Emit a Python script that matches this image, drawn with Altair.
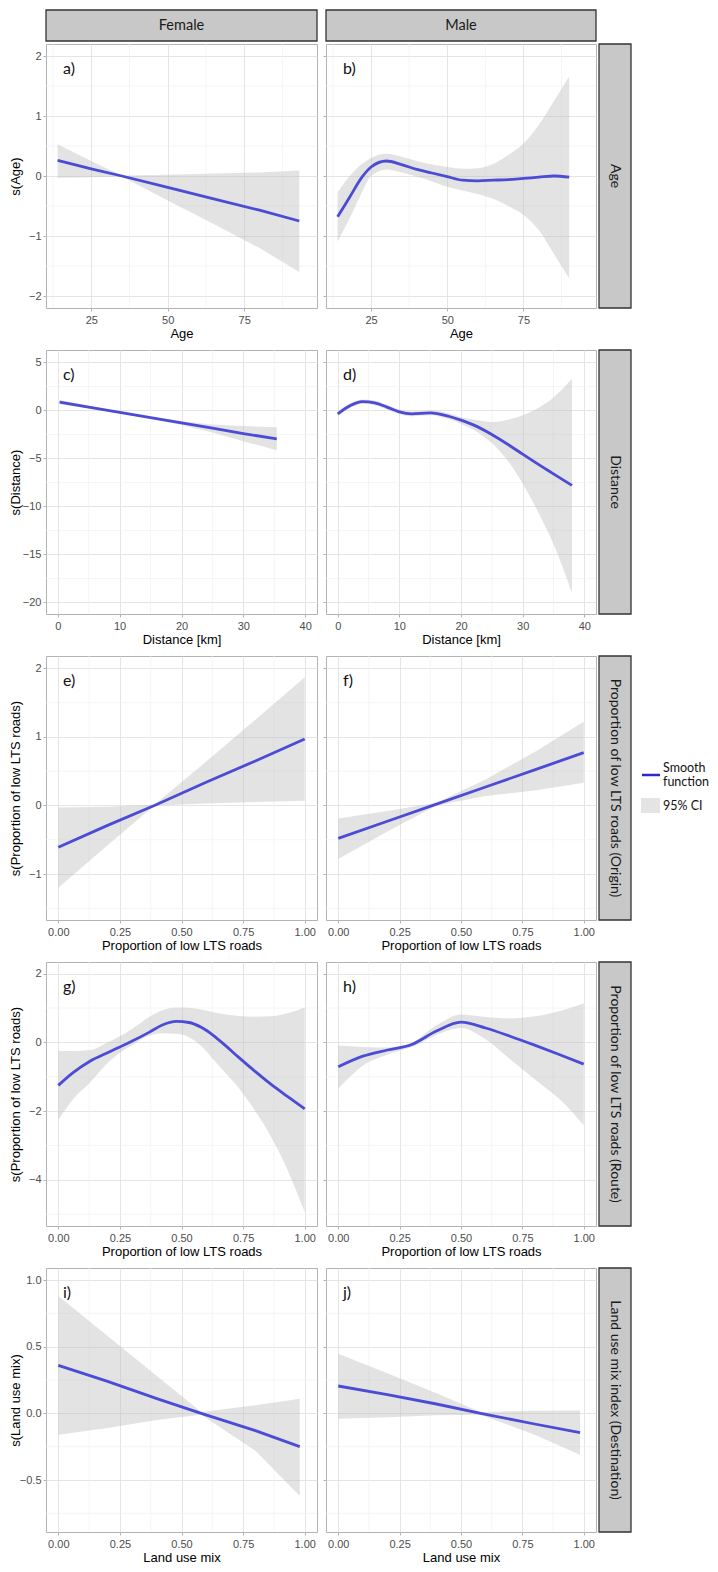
import altair as alt
import pandas as pd

# ---------------- data ----------------
# Row 1: Age
age_f_x = [14, 25, 35, 50, 65, 80, 93]
age_f_fit = [0.26, 0.12, 0.0, -0.19, -0.38, -0.57, -0.75]
age_f_lo = [-0.03, -0.02, -0.01, -0.41, -0.80, -1.20, -1.60]
age_f_hi = [0.53, 0.25, 0.01, 0.02, 0.04, 0.06, 0.09]

age_m_x = [14, 18, 22, 25, 30, 35, 40, 45, 50, 55, 60, 65, 70, 75, 80, 85, 90]
age_m_fit = [-0.68, -0.35, -0.02, 0.15, 0.25, 0.19, 0.11, 0.05, -0.01, -0.07, -0.08, -0.07, -0.06, -0.04, -0.02, 0.0, -0.02]
age_m_lo = [-1.09, -0.70, -0.27, 0.0, 0.11, 0.06, -0.01, -0.09, -0.18, -0.24, -0.30, -0.38, -0.50, -0.65, -0.90, -1.30, -1.71]
age_m_hi = [-0.27, 0.0, 0.20, 0.30, 0.37, 0.32, 0.25, 0.19, 0.15, 0.12, 0.13, 0.20, 0.35, 0.54, 0.85, 1.25, 1.66]

# Row 2: Distance
dist_f_x = [0.3, 5, 10, 15, 20, 25, 30, 35.4]
dist_f_fit = [0.88, 0.35, -0.20, -0.75, -1.30, -1.85, -2.40, -2.97]
dist_f_lo = [0.66, 0.20, -0.30, -0.85, -1.50, -2.30, -3.20, -4.15]
dist_f_hi = [1.10, 0.50, -0.10, -0.65, -1.12, -1.45, -1.62, -1.75]

dist_m_x = [0, 2, 4, 6, 8, 10, 12, 15, 18, 20, 22, 25, 28, 30, 33, 35, 38]
dist_m_fit = [-0.35, 0.5, 0.93, 0.8, 0.35, -0.15, -0.35, -0.25, -0.6, -1.0, -1.5, -2.5, -3.7, -4.55, -5.8, -6.6, -7.8]
dist_m_lo = [-0.6, 0.25, 0.7, 0.55, 0.1, -0.4, -0.6, -0.5, -0.9, -1.4, -2.0, -3.4, -5.6, -7.6, -11.2, -13.9, -19.0]
dist_m_hi = [-0.1, 0.75, 1.15, 1.05, 0.6, 0.1, -0.1, 0.0, -0.3, -0.7, -0.95, -1.2, -0.9, -0.5, 0.45, 1.35, 3.3]

# Row 3: Proportion of low LTS roads (Origin)
orig_f_x = [0, 0.2, 0.39, 0.6, 0.8, 1.0]
orig_f_fit = [-0.61, -0.29, 0.0, 0.34, 0.65, 0.97]
orig_f_lo = [-1.20, -0.58, 0.0, 0.03, 0.05, 0.07]
orig_f_hi = [-0.03, -0.02, 0.01, 0.64, 1.25, 1.87]

orig_m_x = [0, 0.2, 0.4, 0.6, 0.8, 1.0]
orig_m_fit = [-0.48, -0.23, 0.02, 0.27, 0.52, 0.77]
orig_m_lo = [-0.78, -0.38, 0.0, 0.14, 0.22, 0.33]
orig_m_hi = [-0.19, -0.08, 0.04, 0.38, 0.78, 1.22]

# Row 4: Proportion of low LTS roads (Route)
route_f_x = [0, 0.06, 0.13, 0.2, 0.25, 0.3, 0.37, 0.42, 0.48, 0.53, 0.58, 0.63, 0.68, 0.73, 0.8, 0.86, 0.93, 1.0]
route_f_fit = [-1.25, -0.88, -0.54, -0.30, -0.13, 0.04, 0.30, 0.50, 0.61, 0.58, 0.44, 0.20, -0.10, -0.42, -0.85, -1.20, -1.57, -1.93]
route_f_lo = [-2.25, -1.65, -1.16, -0.60, -0.30, -0.08, 0.20, 0.27, 0.25, 0.15, -0.10, -0.50, -0.90, -1.30, -2.00, -2.70, -3.70, -4.93]
route_f_hi = [-0.25, -0.25, -0.22, 0.0, 0.18, 0.40, 0.75, 0.93, 1.02, 1.01, 0.96, 0.88, 0.81, 0.77, 0.75, 0.76, 0.85, 1.02]

route_m_x = [0, 0.1, 0.2, 0.3, 0.4, 0.5, 0.6, 0.7, 0.8, 0.9, 1.0]
route_m_fit = [-0.71, -0.40, -0.22, -0.06, 0.33, 0.59, 0.42, 0.18, -0.08, -0.35, -0.63]
route_m_lo = [-1.35, -0.68, -0.35, -0.13, 0.22, 0.42, 0.09, -0.49, -1.07, -1.64, -2.41]
route_m_hi = [-0.09, -0.13, -0.15, 0.0, 0.50, 0.81, 0.74, 0.70, 0.76, 0.91, 1.14]

# Row 5: Land use mix index (Destination)
lum_f_x = [0, 0.2, 0.4, 0.58, 0.8, 0.98]
lum_f_fit = [0.36, 0.24, 0.11, 0.0, -0.13, -0.25]
lum_f_lo = [-0.16, -0.11, -0.05, -0.01, -0.28, -0.62]
lum_f_hi = [0.88, 0.58, 0.28, 0.01, 0.06, 0.11]

lum_m_x = [0, 0.2, 0.4, 0.58, 0.8, 0.985]
lum_m_fit = [0.205, 0.14, 0.07, 0.0, -0.08, -0.145]
lum_m_lo = [-0.04, -0.03, -0.015, -0.01, -0.16, -0.31]
lum_m_hi = [0.446, 0.30, 0.15, 0.01, 0.02, 0.022]

# axis ticks
age_ticks = [25, 50, 75]
age_minor = [12.5, 37.5, 62.5, 87.5]
dist_ticks = [0, 10, 20, 30, 40]
dist_minor = [5, 15, 25, 35]
prop_ticks = [0, 0.25, 0.5, 0.75, 1.0]
prop_minor = [0.125, 0.375, 0.625, 0.875]

y1_ticks = [-2, -1, 0, 1, 2]
y1_minor = [-1.5, -0.5, 0.5, 1.5]
y2_ticks = [-20, -15, -10, -5, 0, 5]
y2_minor = [-17.5, -12.5, -7.5, -2.5, 2.5]
y3_ticks = [-1, 0, 1, 2]
y3_minor = [-1.5, -0.5, 0.5, 1.5]
y4_ticks = [-4, -2, 0, 2]
y4_minor = [-5, -3, -1, 1]
y5_ticks = [-0.5, 0.0, 0.5, 1.0]
y5_minor = [-0.75, -0.25, 0.25, 0.75]

col_labels = ["Female", "Male"]
row_labels = ["Age", "Distance", "Proportion of low LTS roads (Origin)",
              "Proportion of low LTS roads (Route)", "Land use mix index (Destination)"]
panel_labels = ["a)", "b)", "c)", "d)", "e)", "f)", "g)", "h)", "i)", "j)"]
legend_labels = ["Smooth", "function", "95% CI"]

# ---------------- layout / style ----------------
W_L, W_R, H = 271, 270, 264
BLUE = "#4b4bd6"
STRIP_FILL = "#c8c8c8"
STRIP_STROKE = "#333333"
HUMAN_FONT = "Lato"


def panel(xv, fit, lo, hi, xdom, ydom, xticks, xminor, yticks, yminor,
          xfmt, yfmt, xtitle, ytitle, label, left, width, interp,
          top_strip=None, right_strip=None, legend=False):
    df = pd.DataFrame({"x": xv, "fit": fit, "lo": lo, "hi": hi})
    xs = alt.Scale(domain=xdom, nice=False, zero=False)
    ys = alt.Scale(domain=ydom, nice=False, zero=False)
    xa = alt.Axis(values=xticks, format=xfmt, title=xtitle, labelFlush=False,
                  labelOverlap=False, titleFontWeight="normal")
    if left:
        ya = alt.Axis(values=yticks, format=yfmt, title=ytitle, labelFlush=False,
                      labelOverlap=False, titleX=-24, titleY=H / 2,
                      titleBaseline="bottom", titleAngle=270, titleFontWeight="normal")
    else:
        ya = alt.Axis(values=yticks, labels=False, title=None)

    layers = [
        alt.Chart(pd.DataFrame({"v": xminor})).mark_rule(color="#f1f1f1", strokeWidth=0.7)
        .encode(x=alt.X("v:Q", scale=xs, axis=xa)),
        alt.Chart(pd.DataFrame({"v": yminor})).mark_rule(color="#f1f1f1", strokeWidth=0.7)
        .encode(y=alt.Y("v:Q", scale=ys, axis=ya)),
        alt.Chart(df).mark_area(color="#bdbdbd", opacity=0.42, interpolate=interp)
        .encode(x=alt.X("x:Q", scale=xs, axis=xa), y=alt.Y("lo:Q", scale=ys, axis=ya),
                y2=alt.Y2("hi:Q")),
        alt.Chart(df).mark_line(color=BLUE, strokeWidth=2.8, interpolate=interp)
        .encode(x=alt.X("x:Q", scale=xs, axis=xa), y=alt.Y("fit:Q", scale=ys, axis=ya)),
        alt.Chart(pd.DataFrame({"t": [label]}))
        .mark_text(align="left", baseline="middle", font=HUMAN_FONT, fontSize=16, color="#111111")
        .encode(x=alt.value(17), y=alt.value(25), text="t:N"),
    ]
    if top_strip is not None:
        sdf = pd.DataFrame({"t": [top_strip]})
        layers.append(alt.Chart(sdf).mark_rect(fill=STRIP_FILL, stroke=STRIP_STROKE, strokeWidth=1.3)
                      .encode(x=alt.value(0), x2=alt.value(width), y=alt.value(-34), y2=alt.value(-3)))
        layers.append(alt.Chart(sdf).mark_text(font=HUMAN_FONT, fontSize=14.5, color="#1a1a1a",
                                               baseline="middle", align="center")
                      .encode(x=alt.value(width / 2), y=alt.value(-18), text="t:N"))
    if right_strip is not None:
        sdf = pd.DataFrame({"t": [right_strip]})
        layers.append(alt.Chart(sdf).mark_rect(fill=STRIP_FILL, stroke=STRIP_STROKE, strokeWidth=1.3)
                      .encode(x=alt.value(width + 3), x2=alt.value(width + 35),
                              y=alt.value(0), y2=alt.value(H)))
        layers.append(alt.Chart(sdf).mark_text(font=HUMAN_FONT, fontSize=14, color="#1a1a1a",
                                               angle=90, baseline="middle", align="center")
                      .encode(x=alt.value(width + 19), y=alt.value(H / 2), text="t:N"))
    if legend:
        ldf = pd.DataFrame({"t": [0]})
        layers.append(alt.Chart(ldf).mark_rule(color="#2a2ac8", strokeWidth=2.5)
                      .encode(x=alt.value(width + 46), x2=alt.value(width + 64),
                              y=alt.value(H / 2 - 13)))
        layers.append(alt.Chart(ldf).mark_rect(fill="#e4e4e4")
                      .encode(x=alt.value(width + 45), x2=alt.value(width + 64),
                              y=alt.value(H / 2 + 10), y2=alt.value(H / 2 + 25)))
        for txt, yy in zip(legend_labels, [H / 2 - 20, H / 2 - 6.5, H / 2 + 17.5]):
            layers.append(alt.Chart(pd.DataFrame({"t": [txt]}))
                          .mark_text(align="left", baseline="middle", font=HUMAN_FONT,
                                     fontSize=12.5, color="#111111")
                          .encode(x=alt.value(width + 67), y=alt.value(yy), text="t:N"))
    return alt.layer(*layers).properties(width=width, height=H)


rows = [
    dict(f=(age_f_x, age_f_fit, age_f_lo, age_f_hi), m=(age_m_x, age_m_fit, age_m_lo, age_m_hi),
         xdom=[10.2, 98.8], ydom=[-2.2, 2.2], xt=age_ticks, xm=age_minor, yt=y1_ticks, ym=y1_minor,
         xfmt="d", yfmt="d", xtitle="Age", ytitle="s(Age)", fi="linear", mi="monotone"),
    dict(f=(dist_f_x, dist_f_fit, dist_f_lo, dist_f_hi), m=(dist_m_x, dist_m_fit, dist_m_lo, dist_m_hi),
         xdom=[-1.9, 41.9], ydom=[-21.2, 6.3], xt=dist_ticks, xm=dist_minor, yt=y2_ticks, ym=y2_minor,
         xfmt="d", yfmt="d", xtitle="Distance [km]", ytitle="s(Distance)", fi="linear", mi="monotone"),
    dict(f=(orig_f_x, orig_f_fit, orig_f_lo, orig_f_hi), m=(orig_m_x, orig_m_fit, orig_m_lo, orig_m_hi),
         xdom=[-0.05, 1.05], ydom=[-1.67, 2.18], xt=prop_ticks, xm=prop_minor, yt=y3_ticks, ym=y3_minor,
         xfmt=".2f", yfmt="d", xtitle="Proportion of low LTS roads", ytitle="s(Proportion of low LTS roads)",
         fi="linear", mi="linear"),
    dict(f=(route_f_x, route_f_fit, route_f_lo, route_f_hi), m=(route_m_x, route_m_fit, route_m_lo, route_m_hi),
         xdom=[-0.05, 1.05], ydom=[-5.34, 2.34], xt=prop_ticks, xm=prop_minor, yt=y4_ticks, ym=y4_minor,
         xfmt=".2f", yfmt="d", xtitle="Proportion of low LTS roads", ytitle="s(Proportion of low LTS roads)",
         fi="monotone", mi="monotone"),
    dict(f=(lum_f_x, lum_f_fit, lum_f_lo, lum_f_hi), m=(lum_m_x, lum_m_fit, lum_m_lo, lum_m_hi),
         xdom=[-0.05, 1.05], ydom=[-0.89, 1.09], xt=prop_ticks, xm=prop_minor, yt=y5_ticks, ym=y5_minor,
         xfmt=".2f", yfmt=".1f", xtitle="Land use mix", ytitle="s(Land use mix)", fi="linear", mi="linear"),
]

charts = []
for i, r in enumerate(rows):
    common = dict(xdom=r["xdom"], ydom=r["ydom"], xticks=r["xt"], xminor=r["xm"],
                  yticks=r["yt"], yminor=r["ym"], xfmt=r["xfmt"], yfmt=r["yfmt"],
                  xtitle=r["xtitle"], ytitle=r["ytitle"])
    left_kw = dict(label=panel_labels[2 * i], left=True, width=W_L, interp=r["fi"])
    right_kw = dict(label=panel_labels[2 * i + 1], left=False, width=W_R, interp=r["mi"],
                    right_strip=row_labels[i], legend=(i == 2))
    if i == 0:
        left_kw["top_strip"] = col_labels[0]
        right_kw["top_strip"] = col_labels[1]
    charts.append(panel(*r["f"], **common, **left_kw))
    charts.append(panel(*r["m"], **common, **right_kw))

chart = alt.concat(*charts, columns=2, spacing={"row": 42, "column": 9}, bounds="flush").properties(
    padding={"left": 0, "top": 0, "right": 0, "bottom": 0}
).configure_view(
    stroke="#b3b3b3", strokeWidth=1
).configure_axis(
    labelFont="Liberation Sans", labelFontSize=11, labelColor="#4d4d4d",
    titleFont="Liberation Sans", titleFontSize=13, titleFontWeight="normal", titleColor="#000000",
    tickColor="#b3b3b3", tickSize=3, labelPadding=2, domain=False,
    gridColor="#e2e2e2", gridWidth=0.9
).configure_axisX(labelPadding=3, titlePadding=2)

chart.save("out.html", embed_options={"renderer": "svg", "actions": False})
